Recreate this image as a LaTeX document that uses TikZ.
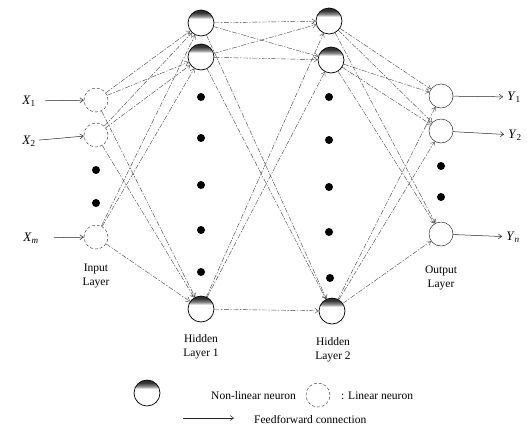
\documentclass[tikz,border=0pt]{standalone}
\usepackage{fontspec}
\setmainfont{Liberation Serif}
\usetikzlibrary{arrows.meta}

% dark cap over a white body: used for the non-linear neurons
\pgfdeclareverticalshading{neuroncap}{100bp}{color(0bp)=(white); color(58bp)=(white); color(63bp)=(black!45); color(70bp)=(black!80); color(100bp)=(black!90)}

\tikzset{
  nonlin/.style={circle, draw=black, line width=0.7pt, minimum size=26pt, inner sep=0pt, shading=neuroncap},
  linin/.style={circle, draw=black!70, line width=0.5pt, densely dashed, minimum size=24pt, inner sep=0pt},
  linout/.style={circle, draw=black!80, line width=0.5pt, minimum size=24pt, inner sep=0pt},
  bigdot/.style={circle, fill=black, minimum size=8pt, inner sep=0pt},
  lbl/.style={font=\fontsize{11.5}{14}\selectfont, align=center, inner sep=1pt},
  varlbl/.style={font=\fontsize{13}{14}\selectfont, inner sep=1pt},
  tip/.style={-{Straight Barb[length=3.5pt,width=5pt]}},
  conn/.style={tip, draw=black!75, line width=0.4pt, dash pattern=on 5pt off 1.5pt on 1.5pt off 1.5pt},
  feed/.style={tip, draw=black!85, line width=0.5pt},
}

\begin{document}
\begin{tikzpicture}[x=1pt, y=-1pt]
\useasboundingbox (0,0) rectangle (527,437);

% input layer
\node[linin] (i1) at (96,100) {};
\node[linin] (i2) at (96,135) {};
\node[linin] (im) at (96,237) {};
\node[bigdot] (di1) at (96,170) {};
\node[bigdot] (di2) at (96,203) {};

% hidden layer 1
\node[nonlin] (ha1) at (201,23) {};
\node[nonlin] (ha2) at (201,57) {};
\node[nonlin] (han) at (201,309) {};
\foreach \yy [count=\k] in {97,138,185,230,272} \node[bigdot] (dha\k) at (201,\yy) {};

% hidden layer 2
\node[nonlin] (hb1) at (329,21) {};
\node[nonlin] (hb2) at (331,60) {};
\node[nonlin] (hbn) at (332,311) {};
\foreach \yy/\xx [count=\k] in {97/329,140/329,187/329,232/329,278/330} \node[bigdot] (dhb\k) at (\xx,\yy) {};

% output layer
\node[linout] (o1) at (441,96) {};
\node[linout] (o2) at (441,131) {};
\node[linout] (on) at (441,234) {};
\node[bigdot] (do1) at (441,166) {};
\node[bigdot] (do2) at (441,197) {};

% inputs and outputs
\node[varlbl] (x1) at (29,101) {\textit{X}\textsubscript{1}};
\node[varlbl] (x2) at (29,141) {\textit{X}\textsubscript{2}};
\node[varlbl] (xm) at (31,238) {\textit{X}\textsubscript{\textit{m}}};
\node[varlbl] (y1) at (514,97) {\textit{Y}\textsubscript{1}};
\node[varlbl] (y2) at (515,135) {\textit{Y}\textsubscript{2}};
\node[varlbl] (yn) at (513,237) {\textit{Y}\textsubscript{\textit{n}}};

\draw[feed, shorten <=8pt] (x1) -- (i1);
\draw[feed, shorten <=2pt] (x2) -- (i2);
\draw[feed, shorten <=14pt] (xm) -- (im);
\draw[feed, shorten >=3pt] (o1) -- (y1);
\draw[feed, shorten >=3pt] (o2) -- (y2);
\draw[feed, shorten >=3pt] (on) -- (yn);

% fully connected layers
\foreach \s in {i1,i2,im}
  \foreach \t in {ha1,ha2,han}
    \draw[conn] (\s) -- (\t);
\foreach \s in {ha1,ha2,han}
  \foreach \t in {hb1,hb2,hbn}
    \draw[conn] (\s) -- (\t);
\foreach \s in {hb1,hb2,hbn}
  \foreach \t in {o1,o2,on}
    \draw[conn] (\s) -- (\t);

% layer captions
\node[lbl] (capi) at (96,276) {Input\\Layer};
\node[lbl] (caph1) at (201,347) {Hidden\\Layer 1};
\node[lbl] (caph2) at (333,350) {Hidden\\Layer 2};
\node[lbl] (capo) at (441,278) {Output\\Layer};

% legend
\node[nonlin] (lnl) at (147,393) {};
\node[lbl, anchor=west] (tnl) at (210,396) {Non-linear neuron};
\node[linin] (llin) at (318,395) {};
\node[lbl, anchor=west] (tlin) at (340,396) {: Linear neuron};
\coordinate (fa) at (183,418);
\coordinate (fb) at (234,418);
\draw[feed] (fa) -- (fb);
\node[lbl, anchor=west] (tff) at (253,419) {Feedforward connection};
\end{tikzpicture}
\end{document}
